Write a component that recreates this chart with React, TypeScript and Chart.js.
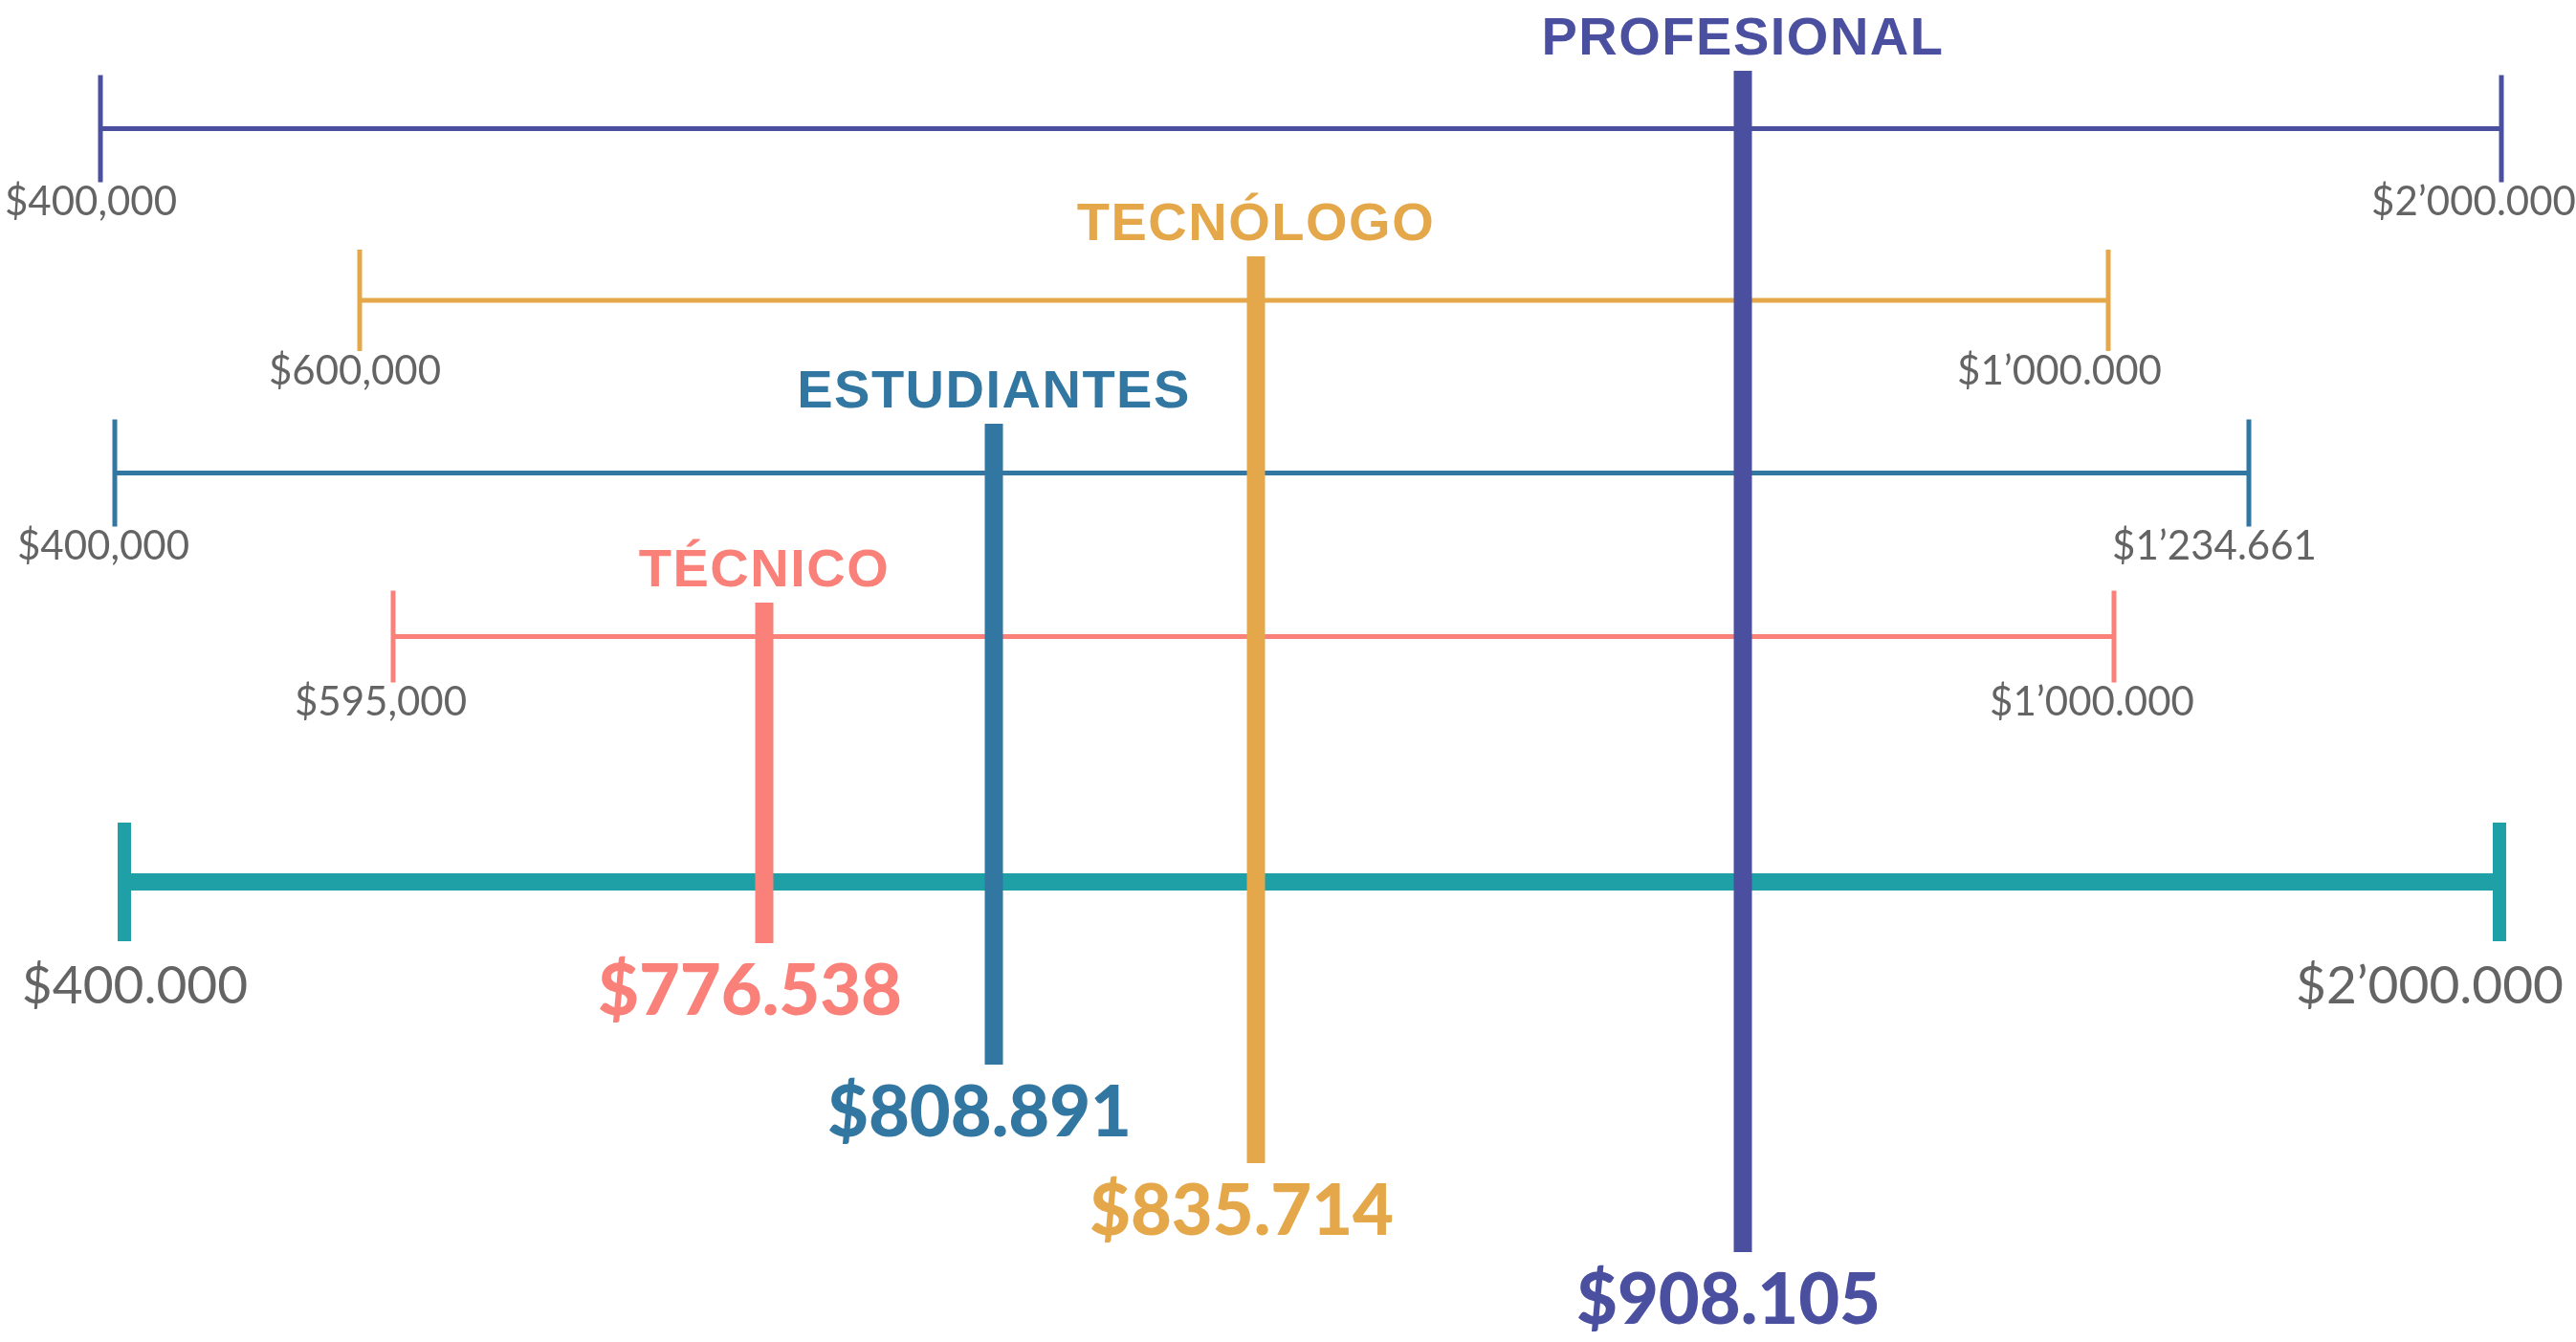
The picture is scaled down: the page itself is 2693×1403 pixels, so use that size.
import React, { useEffect, useRef } from 'react';
import { Chart, registerables, LinearScale } from 'chart.js';

// ---------------- DATA ----------------
const categories = ['PROFESIONAL', 'TECNÓLOGO', 'ESTUDIANTES', 'TÉCNICO'];
const medianValues = [908105, 835714, 808891, 776538];
const minValues = [400000, 600000, 400000, 595000];
const maxValues = [2000000, 1000000, 1234661, 1000000];
const medianLabels = ['$908.105', '$835.714', '$808.891', '$776.538'];
const minLabels = ['$400,000', '$600,000', '$400,000', '$595,000'];
const maxLabels = ['$2’000.000', '$1’000.000', '$1’234.661', '$1’000.000'];
const axisValues = [400000, 2000000];
const axisLabels = ['$400.000', '$2’000.000'];

// ---------------- STYLE / LAYOUT ----------------
const W = 2693;
const H = 1403;
const colors = ['#4a4f9f', '#e4a84b', '#3277a1', '#fa817a'];
const TEAL = '#1ea0a6';
const GRAY = '#646464';
const ROW_IDS = ['xProf', 'xTecn', 'xEst', 'xTec'];
// the infographic is not drawn to scale: each axis has its own anchor layout (design px)
const layout = {
  medianPx: [1822, 1313, 1039, 799],
  minPx: [105, 376, 120, 411],
  maxPx: [2615, 2204, 2351, 2210],
  axisPx: [130, 2613],
  rowY: [0, 0.997, 2.0, 2.95],
  axisY: 4.375,
  barTop: [-0.336, 0.742, 1.714, 2.753],
  barBottom: [6.525, 6.008, 5.436, 4.731],
  tickR: [56, 53, 56, 48],
  minLabelDx: [-10, -5, -12, -13],
  maxLabelDx: [-29, -51, -36, -23],
  axisLabelDx: [11, -73],
  yMin: -0.7472,
  yMax: 7.0472,
};

const ANCHORS: Record<string, [number, number][]> = {};
function buildAnchors() {
  const main: [number, number][] = [
    [axisValues[0], layout.axisPx[0] / W],
    [axisValues[1], layout.axisPx[1] / W],
  ];
  medianValues.forEach((v, i) => main.push([v, layout.medianPx[i] / W]));
  main.sort((a, b) => a[0] - b[0]);
  ANCHORS.xMain = main;
  ROW_IDS.forEach((id, i) => {
    ANCHORS[id] = [
      [minValues[i], layout.minPx[i] / W],
      [maxValues[i], layout.maxPx[i] / W],
    ];
  });
}
buildAnchors();

function interp(a: [number, number][], v: number) {
  let i = 0;
  if (v >= a[a.length - 1][0]) i = a.length - 2;
  else if (v > a[0][0]) {
    while (i < a.length - 2 && v > a[i + 1][0]) i++;
  }
  const [v0, f0] = a[i];
  const [v1, f1] = a[i + 1];
  return f0 + ((v - v0) / (v1 - v0)) * (f1 - f0);
}
function interpInv(a: [number, number][], f: number) {
  const b = a.map(([v, ff]) => [ff, v] as [number, number]).sort((p, q) => p[0] - q[0]);
  return interp(b, f);
}

class AnchorScale extends LinearScale {
  static id = 'anchor';
  static defaults = LinearScale.defaults;
  getPixelForValue(value: any) {
    const a = ANCHORS[(this as any).id];
    if (value === null || value === undefined || !a) return super.getPixelForValue(value);
    return (this as any).getPixelForDecimal(interp(a, value));
  }
  getValueForPixel(pixel: number) {
    const a = ANCHORS[(this as any).id];
    if (!a) return super.getValueForPixel(pixel);
    return interpInv(a, (this as any).getDecimalForPixel(pixel));
  }
}

Chart.register(...registerables, AnchorScale as any);

const labelPlugin = {
  id: 'infoLabels',
  afterDatasetsDraw(chart: any) {
    const ctx: CanvasRenderingContext2D = chart.ctx;
    const y = chart.scales.y;
    const xm = chart.scales.xMain;
    ctx.save();
    ctx.textAlign = 'center';
    ctx.textBaseline = 'alphabetic';
    categories.forEach((c, i) => {
      const bx = xm.getPixelForValue(medianValues[i]);
      const top = y.getPixelForValue(layout.barTop[i]);
      const bottom = y.getPixelForValue(layout.barBottom[i]);
      ctx.fillStyle = colors[i];
      ctx.font = '700 56px "Liberation Sans", Arial, sans-serif';
      (ctx as any).letterSpacing = '1.5px';
      ctx.fillText(c, bx, top - 17);
      (ctx as any).letterSpacing = '0px';
      ctx.font = '900 74px Lato, sans-serif';
      ctx.fillText(medianLabels[i], bx - 15, bottom + 75);

      const xs = chart.scales[ROW_IDS[i]];
      const ry = y.getPixelForValue(layout.rowY[i]);
      const by = ry + layout.tickR[i] + 35;
      ctx.fillStyle = GRAY;
      ctx.font = '400 42px Lato, sans-serif';
      ctx.fillText(minLabels[i], xs.getPixelForValue(minValues[i]) + layout.minLabelDx[i], by);
      ctx.fillText(maxLabels[i], xs.getPixelForValue(maxValues[i]) + layout.maxLabelDx[i], by);
    });
    const ay = y.getPixelForValue(layout.axisY) + 127;
    ctx.fillStyle = GRAY;
    ctx.font = '400 55px Lato, sans-serif';
    axisValues.forEach((v, k) => {
      ctx.fillText(axisLabels[k], xm.getPixelForValue(v) + layout.axisLabelDx[k], ay);
    });
    ctx.restore();
  },
};

function buildDatasets() {
  const ds: any[] = [];
  // median bars (drawn on top)
  categories.forEach((c, i) => {
    ds.push({
      label: c + ' mediana',
      xAxisID: 'xMain',
      yAxisID: 'y',
      data: [
        { x: medianValues[i], y: layout.barTop[i] },
        { x: medianValues[i], y: layout.barBottom[i] },
      ],
      borderColor: colors[i],
      borderWidth: 19,
      borderCapStyle: 'butt',
      pointRadius: 0,
      order: 1,
    });
  });
  // range lines
  categories.forEach((c, i) => {
    ds.push({
      label: c + ' rango',
      xAxisID: ROW_IDS[i],
      yAxisID: 'y',
      data: [
        { x: minValues[i], y: layout.rowY[i] },
        { x: maxValues[i], y: layout.rowY[i] },
      ],
      borderColor: colors[i],
      borderWidth: 5,
      pointStyle: 'line',
      rotation: 90,
      pointRadius: layout.tickR[i],
      pointBorderWidth: 5,
      pointBorderColor: colors[i],
      pointBackgroundColor: colors[i],
      order: 2,
    });
  });
  // main axis
  ds.push({
    label: 'eje',
    xAxisID: 'xMain',
    yAxisID: 'y',
    data: [
      { x: axisValues[0], y: layout.axisY },
      { x: axisValues[1], y: layout.axisY },
    ],
    borderColor: TEAL,
    borderWidth: 18,
    pointStyle: 'line',
    rotation: 90,
    pointRadius: 62,
    pointBorderWidth: 14,
    pointBorderColor: TEAL,
    pointBackgroundColor: TEAL,
    order: 3,
  });
  return ds;
}

export default function App() {
  const ref = useRef<HTMLCanvasElement>(null);
  useEffect(() => {
    const xScale = { type: 'anchor', axis: 'x', position: 'bottom', display: false };
    const scales: any = {
      y: { type: 'linear', min: layout.yMin, max: layout.yMax, reverse: true, display: false },
      xMain: { ...xScale },
    };
    ROW_IDS.forEach((id) => (scales[id] = { ...xScale }));
    const chart = new Chart(ref.current as HTMLCanvasElement, {
      type: 'line',
      data: { datasets: buildDatasets() },
      options: {
        animation: false,
        responsive: false,
        devicePixelRatio: 1,
        events: [],
        layout: { padding: 0, autoPadding: false },
        scales,
        plugins: { legend: { display: false }, tooltip: { enabled: false } },
      } as any,
      plugins: [labelPlugin],
    });
    return () => chart.destroy();
  }, []);
  return (
    <div style={{ position: 'fixed', left: 0, top: 0, width: W, height: H, background: '#fff' }}>
      <canvas ref={ref} width={W} height={H} style={{ display: 'block', width: W, height: H }} />
    </div>
  );
}
